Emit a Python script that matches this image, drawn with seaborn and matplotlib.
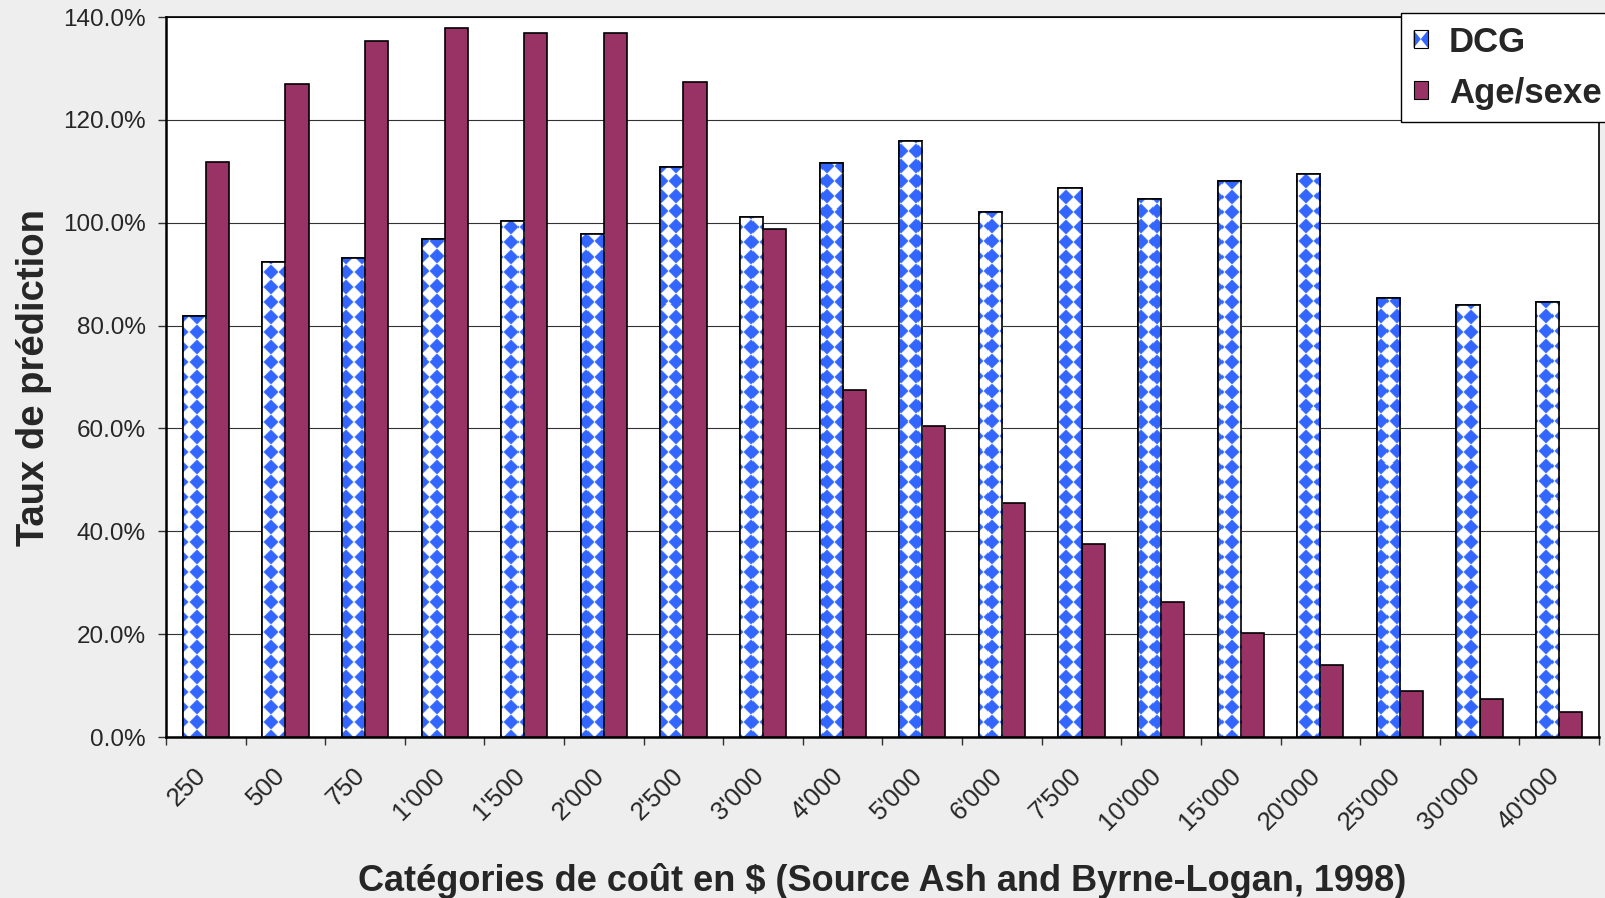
import numpy as np
import pandas as pd
import matplotlib
matplotlib.use("Agg")
import matplotlib.pyplot as plt
import matplotlib.transforms as mtransforms
import seaborn as sns
from matplotlib.patches import Rectangle, Polygon, Patch
from matplotlib.legend_handler import HandlerBase

# ---- data -------------------------------------------------------------
categories = ["250", "500", "750", "1'000", "1'500", "2'000", "2'500", "3'000",
              "4'000", "5'000", "6'000", "7'500", "10'000", "15'000", "20'000",
              "25'000", "30'000", "40'000"]
dcg = [81.8, 92.3, 93.1, 96.9, 100.3, 97.9, 110.9, 101.1, 111.7, 115.9,
       102.1, 106.7, 104.7, 108.1, 109.5, 85.4, 84.0, 84.6]
age_sexe = [111.9, 127.0, 135.4, 137.8, 136.8, 136.8, 127.4, 98.7, 67.4, 60.4,
            45.5, 37.5, 26.3, 20.3, 14.0, 9.0, 7.4, 4.8]
series = ["DCG", "Age/sexe"]
y_ticks = [0, 20, 40, 60, 80, 100, 120, 140]

BG = "#EEEEEE"
BLUE = "#3366FF"
PLUM = "#993366"

sns.set_style("white")
plt.rcParams["font.family"] = ["Liberation Sans", "DejaVu Sans"]

df = pd.DataFrame({
    "cost": categories * 2,
    "rate": dcg + age_sexe,
    "series": [series[0]] * len(categories) + [series[1]] * len(categories),
})

fig = plt.figure(figsize=(16.05, 8.98), dpi=100, facecolor=BG)
ax = fig.add_axes([166 / 1605, 1 - 737 / 898, (1599 - 166) / 1605, (737 - 17) / 898])
ax.set_facecolor("white")

sns.barplot(data=df, x="cost", y="rate", hue="series", order=categories,
            hue_order=series, palette={series[0]: "white", series[1]: PLUM},
            saturation=1, width=0.58, gap=0, edgecolor="black", linewidth=1.2,
            legend=False, ax=ax, zorder=3)

ax.set_xlim(-0.5, len(categories) - 0.5)
ax.set_ylim(0, 140)

# ---- diamond fill for the DCG bars -----------------------------------
fig.canvas.draw()
bb = ax.get_window_extent()
W, H = int(round(bb.width)), int(round(bb.height))
yy, xx = np.mgrid[0:H, 0:W] + 0.5
q = 15.0
fx = (xx % q) / q - 0.5
fy = (yy % q) / q - 0.5
d = np.abs(fx) + np.abs(fy)
alpha = np.clip((d - 0.5) * q / 1.6 + 0.5, 0, 1)
blue_rgb = np.array(matplotlib.colors.to_rgb(BLUE))
img = np.ones((H, W, 3)) * (1 - alpha[..., None]) + blue_rgb * alpha[..., None]

x0, x1 = ax.get_xlim()
y0, y1 = ax.get_ylim()
for bar in ax.containers[0]:
    im = ax.imshow(img, extent=(x0, x1, y0, y1), aspect="auto",
                   interpolation="nearest", zorder=3.1)
    im.set_clip_path(bar)
    ax.add_patch(Rectangle(bar.get_xy(), bar.get_width(), bar.get_height(),
                           facecolor="none", edgecolor="black", linewidth=1.2,
                           zorder=3.2))
ax.set_xlim(x0, x1)
ax.set_ylim(y0, y1)

# ---- axes styling -----------------------------------------------------
ax.set_yticks(y_ticks)
ax.set_yticklabels([f"{v:.1f}%" for v in y_ticks])
ax.yaxis.grid(True, color="#333333", linewidth=0.8, zorder=0)
ax.set_axisbelow(True)
ax.tick_params(axis="y", which="major", left=True, length=6, width=1,
               direction="out", pad=8.6, labelsize=17.5, color="#333333")

ax.set_xticks(range(len(categories)))
ax.set_xticklabels(categories)
ax.set_xticks(np.arange(-0.5, len(categories), 1.0), minor=True)
ax.tick_params(axis="x", which="major", length=0, pad=19, labelsize=18.5)
ax.tick_params(axis="x", which="minor", bottom=True, length=6, width=1,
               direction="out", color="#333333")
shift = mtransforms.ScaledTranslation(-12 / 100, 0, fig.dpi_scale_trans)
for lab in ax.get_xticklabels():
    lab.set_rotation(45)
    lab.set_ha("right")
    lab.set_va("top")
    lab.set_rotation_mode("anchor")
    lab.set_transform(lab.get_transform() + shift)

for side, lw in (("left", 1.8), ("bottom", 1.8), ("top", 1.2), ("right", 1.2)):
    ax.spines[side].set_visible(True)
    ax.spines[side].set_color("black")
    ax.spines[side].set_linewidth(lw)

ax.set_xlabel("Catégories de coût en $ (Source Ash and Byrne-Logan, 1998)",
              fontsize=26, fontweight="bold")
ax.set_ylabel("Taux de prédiction", fontsize=27.5, fontweight="bold")
ax.xaxis.set_label_coords(0.5, -0.175)
ax.yaxis.set_label_coords(-0.0795, 0.5)


# ---- legend -----------------------------------------------------------
class DiamondHandler(HandlerBase):
    def create_artists(self, legend, orig_handle, xdescent, ydescent,
                       width, height, fontsize, trans):
        xa, ya = -xdescent, -ydescent
        xc, yc = xa + width / 2, ya + height / 2
        base = Rectangle((xa, ya), width, height, facecolor="white",
                         edgecolor="none", transform=trans)
        left = Polygon([(xa, ya), (xa, ya + height), (xc, yc)],
                       facecolor=BLUE, edgecolor="none", transform=trans)
        right = Polygon([(xa + width, ya), (xa + width, ya + height), (xc, yc)],
                        facecolor=BLUE, edgecolor="none", transform=trans)
        frame = Rectangle((xa, ya), width, height, facecolor="none",
                          edgecolor="black", linewidth=0.8, transform=trans)
        return [base, left, right, frame]


dcg_handle = Patch(facecolor="white", edgecolor="black")
age_handle = Patch(facecolor=PLUM, edgecolor="black", linewidth=0.8)
leg = fig.legend([dcg_handle, age_handle], series, loc="upper left",
                 bbox_to_anchor=(1401 / 1605, 1 - 13 / 898),
                 borderaxespad=0, frameon=True, fancybox=False,
                 prop={"size": 25, "weight": "bold"},
                 handlelength=0.42, handleheight=0.42, handletextpad=0.6,
                 labelspacing=0.52, borderpad=0.36,
                 handler_map={dcg_handle: DiamondHandler()})
leg.get_frame().set_edgecolor("black")
leg.get_frame().set_linewidth(1.0)
leg.get_frame().set_facecolor("white")
leg.get_frame().set_alpha(1)

fig.savefig("out.png", dpi=100, facecolor=BG)
